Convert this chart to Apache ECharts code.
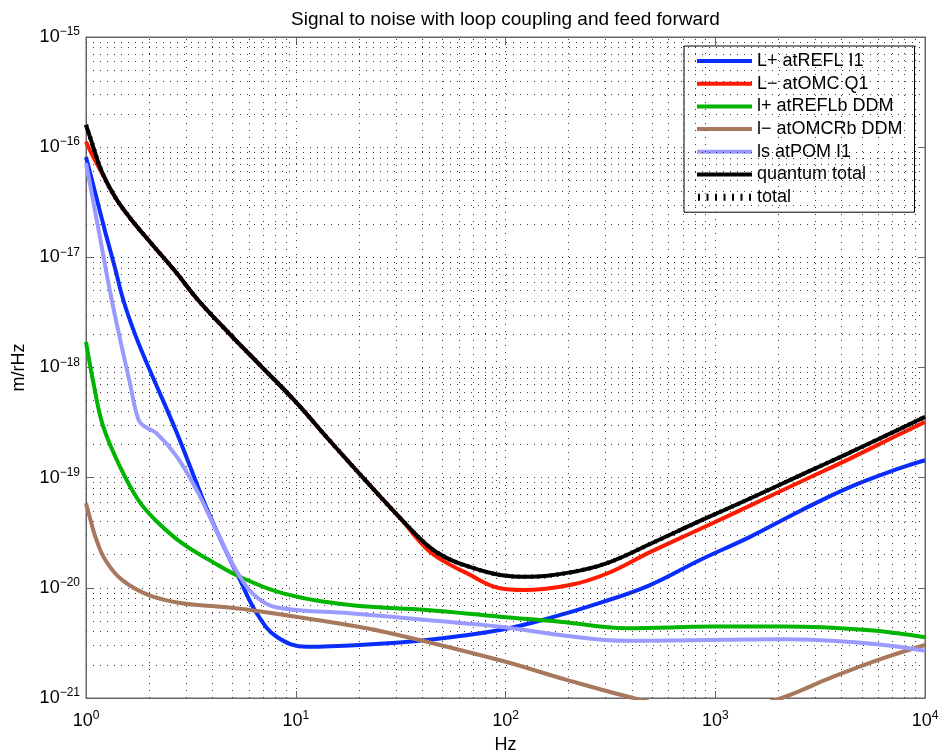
<!DOCTYPE html>
<html>
<head>
<meta charset="utf-8">
<script src="https://cdn.jsdelivr.net/npm/echarts@6/dist/echarts.min.js"></script>
<style>
  html, body { margin: 0; padding: 0; background: #fff; }
  #chart { width: 938px; height: 753px; }
</style>
</head>
<body>
<div id="chart"></div>
<script>
// Displacement noise curves, [frequency in Hz, m/rHz]
const lPlusRefl = [[1, 8.15e-17], [1.104, 3.92e-17], [1.232, 1.73e-17], [1.375, 8.0e-18], [1.506, 4.1e-18], [1.712, 2.01e-18], [1.98, 1.02e-18], [2.7, 2.6e-19], [3.62, 6.27e-20], [4.35, 2.83e-20], [5.42, 1.18e-20], [6.51, 5.9e-21], [8.11, 3.6e-21], [11.3, 2.92e-21], [20.2, 3.03e-21], [42.1, 3.36e-21], [94.2, 4.14e-21], [163, 5.33e-21], [282, 7.3e-21], [489, 1.06e-20], [846, 1.79e-20], [1465, 2.9e-20], [2536, 4.99e-20], [4387, 8.22e-20], [7599, 1.22e-19], [10000, 1.44e-19]];
const lMinusOmc = [[1, 1.12e-16], [1.068, 8.6e-17], [1.192, 5.8e-17], [1.375, 3.53e-17], [1.621, 2.28e-17], [2.02, 1.38e-17], [2.657, 7.5e-18], [3.42, 4.1e-18], [4.86, 2.0e-18], [6.9, 1.01e-18], [10, 4.87e-19], [14.57, 2.15e-19], [21.4, 9.53e-20], [31.4, 4.31e-20], [42.2, 2.25e-20], [51.5, 1.72e-20], [65.3, 1.36e-20], [94.2, 9.9e-21], [121.6, 9.55e-21], [203, 1.06e-20], [305, 1.35e-20], [489, 2.11e-20], [846, 3.42e-20], [1465, 5.58e-20], [2536, 9.14e-20], [4387, 1.49e-19], [7599, 2.49e-19], [10000, 3.2e-19]];
const lsPlusReflb = [[1, 1.71e-18], [1.092, 6.8e-19], [1.209, 2.9e-19], [1.452, 1.26e-19], [1.775, 6.27e-20], [2.14, 4.13e-20], [2.87, 2.54e-20], [3.99, 1.73e-20], [5.42, 1.26e-20], [8.72, 8.9e-21], [18.1, 6.98e-21], [42.1, 6.29e-21], [94.2, 5.47e-21], [182, 4.93e-21], [378, 4.3e-21], [1000, 4.45e-21], [2110, 4.45e-21], [5276, 4.14e-21], [10000, 3.56e-21]];
const lsMinusOmcrb = [[1, 5.85e-20], [1.045, 4.3e-20], [1.108, 2.91e-20], [1.236, 1.79e-20], [1.485, 1.18e-20], [1.99, 8.6e-21], [2.87, 7.24e-21], [3.99, 6.84e-21], [6.05, 6.3e-21], [12.6, 5.1e-21], [26.2, 4.0e-21], [94.2, 2.2e-21], [196, 1.46e-21], [407, 1.0e-21], [700, 8.0e-22], [1000, 7.5e-22], [1400, 8.2e-22], [2074, 1.0e-21], [3655, 1.56e-21], [6325, 2.3e-21], [10000, 3.03e-21]];
const lsPom = [[1, 7.18e-17], [1.15, 1.75e-17], [1.326, 4.1e-18], [1.62, 7.2e-19], [1.78, 3.34e-19], [1.91, 2.9e-19], [2.17, 2.53e-19], [2.71, 1.55e-19], [3.37, 7.7e-20], [4.26, 3.08e-20], [5.42, 1.26e-20], [6.76, 7.76e-21], [8.72, 6.5e-21], [18.1, 5.87e-21], [42.1, 5.1e-21], [94.2, 4.44e-21], [182, 3.73e-21], [378, 3.31e-21], [2110, 3.41e-21], [5276, 3.14e-21], [10000, 2.69e-21]];
const quantumTotal = [[1, 1.59e-16], [1.068, 1.09e-16], [1.192, 5.95e-17], [1.375, 3.53e-17], [1.621, 2.28e-17], [2.02, 1.38e-17], [2.657, 7.5e-18], [3.42, 4.1e-18], [4.86, 2.0e-18], [6.9, 1.01e-18], [10, 4.87e-19], [14.57, 2.15e-19], [21.4, 9.53e-20], [31.4, 4.31e-20], [42.2, 2.45e-20], [51.5, 1.9e-20], [65.3, 1.58e-20], [94.2, 1.31e-20], [131, 1.26e-20], [203, 1.38e-20], [305, 1.68e-20], [489, 2.5e-20], [846, 4.05e-20], [1465, 6.47e-20], [2536, 1.05e-19], [4387, 1.69e-19], [7599, 2.77e-19], [10000, 3.56e-19]];
const total = quantumTotal;

const seriesNames = ['L+ atREFL I1', 'L\u2212 atOMC Q1', 'l+ atREFLb DDM', 'l\u2212 atOMCRb DDM', 'ls atPOM I1', 'quantum total', 'total'];
const seriesColors = ['#0a2dff', '#ff1a00', '#00b400', '#a8785c', '#9a9aff', '#000000', '#000000'];
const seriesData = [lPlusRefl, lMinusOmc, lsPlusReflb, lsMinusOmcrb, lsPom, quantumTotal, total];

const xRange = [1, 1e4];
const yRange = [1e-21, 1e-15];

// The log axis loses precision at 1e-21, so it runs in units of 1e-21 m/rHz.
const Y_EXP = -21;
const Y_UNIT = Math.pow(10, Y_EXP);
const toUnit = v => v / Y_UNIT;

const FONT = '"Liberation Sans", Arial, Helvetica, sans-serif';
const dotted = [1, 6];

// legend swatches: a solid bar and a row of short ticks, both in an 8-unit tall box
const solidIcon = 'path://M0,0h0.01v0.01h-0.01z M0,2h55v4h-55z M0,8h0.01v-0.01h-0.01z';
let tickPath = 'path://M0,0h0.01v0.01h-0.01z M0,8h0.01v-0.01h-0.01z';
for (let k = 0; k < 7; k++) tickPath += ' M' + (k * 8.5) + ',0.5h2v7h-2z';
const dottedIcon = tickPath;

// minor grid positions (2..9 within each decade)
const minorGrid = [];
for (let d = 0; d < 4; d++) {
  for (let m = 2; m <= 9; m++) minorGrid.push({ xAxis: m * Math.pow(10, d) });
}
for (let d = 0; d < 6; d++) {
  for (let m = 2; m <= 9; m++) minorGrid.push({ yAxis: m * Math.pow(10, d) });
}

function powLabel(shift) {
  return function (v) {
    const e = Math.round(Math.log10(v)) + shift;
    const s = e < 0 ? '\u2212' + (-e) : String(e);
    return '{b|10}{s|' + s + '}';
  };
}
const powRich = {
  b: { fontSize: 18, fontFamily: FONT, color: '#000' },
  s: { fontSize: 12, fontFamily: FONT, color: '#000', padding: [0, 0, 10, 0] }
};

const chart = echarts.init(document.getElementById('chart'), null, { renderer: 'canvas' });

const series = [{
  name: '__grid',
  type: 'line',
  data: [],
  silent: true,
  z: 1,
  markLine: {
    silent: true,
    symbol: ['none', 'none'],
    label: { show: false },
    lineStyle: { type: dotted, color: '#3a3a3a', width: 1 },
    emphasis: { disabled: true },
    data: minorGrid,
    animation: false
  }
}];
seriesNames.forEach((name, i) => {
  const isTotal = name === 'total';
  series.push({
    name: name,
    type: 'line',
    data: seriesData[i].map(p => [p[0], toUnit(p[1])]),
    symbol: 'none',
    showSymbol: false,
    smooth: 0.4,
    clip: true,
    z: 3 + i,
    lineStyle: {
      color: seriesColors[i],
      width: isTotal ? 4.5 : 4,
      type: isTotal ? [1.5, 5] : 'solid'
    },
    itemStyle: { color: seriesColors[i] },
    emphasis: { disabled: true }
  });
});

const axisLineStyle = { show: true, lineStyle: { color: '#666', width: 1 } };
const tickStyle = { show: true, inside: true, length: 7, lineStyle: { color: '#666' } };
const gridLineStyle = { show: true, lineStyle: { type: dotted, color: '#3a3a3a', width: 1 } };

chart.setOption({
  animation: false,
  backgroundColor: '#fff',
  title: {
    text: 'Signal to noise with loop coupling and feed forward',
    left: 500.5,
    top: 5,
    textAlign: 'center',
    textStyle: { fontFamily: FONT, fontSize: 19, fontWeight: 'normal', color: '#000' }
  },
  grid: {
    left: 86, right: 13, top: 37, bottom: 55,
    outerBoundsMode: 'none',
    containLabel: false,
    show: true, borderColor: '#666', borderWidth: 1, backgroundColor: 'transparent'
  },
  legend: {
    data: seriesNames.map(n => ({ name: n, icon: n === 'total' ? dottedIcon : solidIcon })),
    orient: 'vertical',
    left: 684,
    top: 46,
    padding: [6, 12, 6, 13],
    itemWidth: 55,
    itemHeight: 8,
    itemGap: 4.7,
    backgroundColor: '#fff',
    borderColor: '#000',
    borderWidth: 1,
    borderRadius: 0,
    selectedMode: false,
    itemStyle: { borderWidth: 0 },
    textStyle: { fontFamily: FONT, fontSize: 18, color: '#000', lineHeight: 18 }
  },
  xAxis: [{
    type: 'log',
    logBase: 10,
    min: xRange[0],
    max: xRange[1],
    name: 'Hz',
    nameLocation: 'middle',
    nameGap: 38,
    nameTextStyle: { fontFamily: FONT, fontSize: 18, color: '#000' },
    axisLine: axisLineStyle,
    axisTick: tickStyle,
    axisLabel: { formatter: powLabel(0), rich: powRich, margin: 12 },
    splitLine: gridLineStyle
  }, {
    type: 'log',
    logBase: 10,
    min: xRange[0],
    max: xRange[1],
    position: 'top',
    axisLine: axisLineStyle,
    axisTick: tickStyle,
    axisLabel: { show: false },
    splitLine: { show: false }
  }],
  yAxis: [{
    type: 'log',
    logBase: 10,
    min: toUnit(yRange[0]),
    max: toUnit(yRange[1]),
    splitNumber: 6,
    name: 'm/rHz',
    nameLocation: 'middle',
    nameRotate: 90,
    nameGap: 58,
    nameTextStyle: { fontFamily: FONT, fontSize: 18, color: '#000' },
    axisLine: axisLineStyle,
    axisTick: tickStyle,
    axisLabel: { formatter: powLabel(Y_EXP), rich: powRich, margin: 6 },
    splitLine: gridLineStyle
  }, {
    type: 'log',
    logBase: 10,
    min: toUnit(yRange[0]),
    max: toUnit(yRange[1]),
    splitNumber: 6,
    position: 'right',
    axisLine: axisLineStyle,
    axisTick: tickStyle,
    axisLabel: { show: false },
    splitLine: { show: false }
  }],
  series: series
});
</script>
</body>
</html>
